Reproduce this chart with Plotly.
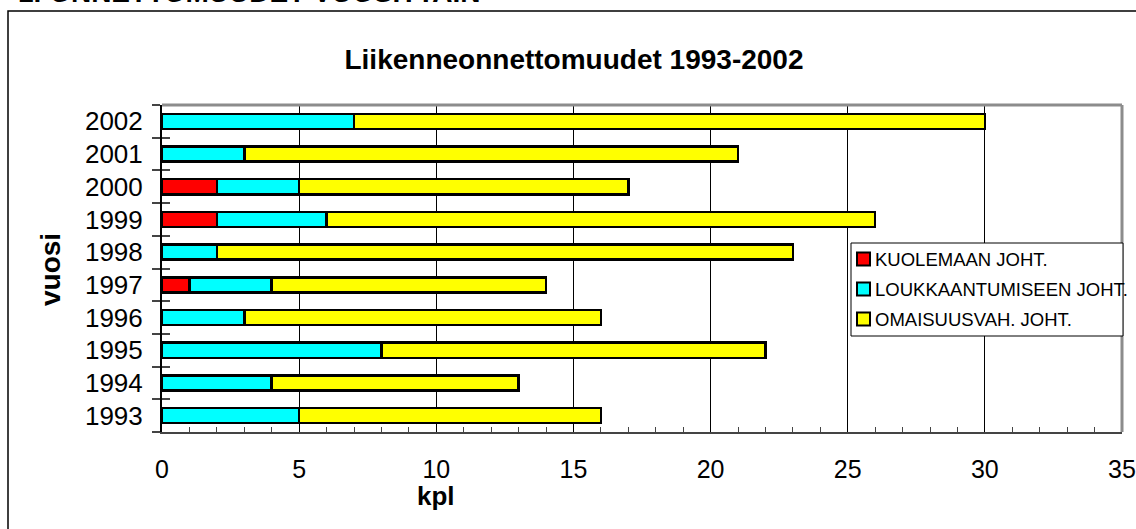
import plotly.graph_objects as go

years = ["1993", "1994", "1995", "1996", "1997", "1998", "1999", "2000", "2001", "2002"]
kuolemaan = [0, 0, 0, 0, 1, 0, 2, 2, 0, 0]
loukkaantumiseen = [5, 4, 8, 3, 3, 2, 4, 3, 3, 7]
omaisuusvah = [11, 9, 14, 13, 10, 21, 20, 12, 18, 23]

series = [
    ("KUOLEMAAN JOHT.", kuolemaan, "#FF0000"),
    ("LOUKKAANTUMISEEN JOHT.", loukkaantumiseen, "#00FFFF"),
    ("OMAISUUSVAH. JOHT.", omaisuusvah, "#FFFF00"),
]

W, H = 1136, 529
L, R, T, B = 162, 1122, 105, 432
pw, ph = R - L, B - T

def px_x(p):
    return (p - L) / pw

def px_y(p):
    return 1 - (p - T) / ph

font = "Liberation Sans, Arial, sans-serif"

fig = go.Figure()
for i, (name, vals, col) in enumerate(series):
    fig.add_trace(go.Bar(
        y=years, x=vals, name=name, orientation="h",
        marker=dict(color=col, line=dict(color="black", width=2.5)),
        showlegend=False,
    ))

# invisible helper trace so the inner half of the y tick crosses can be drawn
fig.add_trace(go.Scatter(x=[0] * len(years), y=years, yaxis="y2", mode="markers",
                         marker=dict(opacity=0, size=0), showlegend=False, hoverinfo="skip"))

shapes = [
    dict(type="line", xref="paper", yref="paper", x0=0, x1=1, y0=1, y1=1,
         line=dict(color="#8c8c8c", width=3)),
    dict(type="line", xref="paper", yref="paper", x0=1, x1=1, y0=0, y1=1,
         line=dict(color="#8c8c8c", width=3)),
    dict(type="rect", xref="paper", yref="paper",
         x0=px_x(8), x1=px_x(1160), y0=px_y(560), y1=px_y(11),
         line=dict(color="black", width=1.5), layer="below"),
    dict(type="rect", xref="paper", yref="paper",
         x0=px_x(851), x1=px_x(1123), y0=px_y(336), y1=px_y(243),
         fillcolor="white", line=dict(color="black", width=1), layer="above"),
]

annotations = [
    dict(text="<b>1. ONNETTOMUUDET VUOSITTAIN</b>", xref="paper", yref="paper",
         x=px_x(16), y=px_y(10), xanchor="left", yanchor="bottom", showarrow=False,
         font=dict(size=28, family=font)),
    dict(text="<b>kpl</b>", xref="paper", yref="paper",
         x=px_x(436), y=px_y(496), xanchor="center", yanchor="middle", showarrow=False,
         font=dict(size=26, family=font)),
    dict(text="<b>vuosi</b>", xref="paper", yref="paper",
         x=px_x(50), y=px_y(270), xanchor="center", yanchor="middle", showarrow=False,
         textangle=-90, font=dict(size=28, family=font)),
]

for i, (name, vals, col) in enumerate(series):
    yc = 259 + 30 * i
    shapes.append(dict(type="rect", xref="paper", yref="paper",
                       x0=px_x(857), x1=px_x(870), y0=px_y(yc + 6.5), y1=px_y(yc - 6.5),
                       fillcolor=col, line=dict(color="black", width=2), layer="above"))
    annotations.append(dict(text=name, xref="paper", yref="paper",
                            x=px_x(873), y=px_y(yc), xanchor="left", yanchor="middle",
                            showarrow=False, font=dict(size=18.5, family=font)))

fig.update_layout(
    width=W, height=H,
    margin=dict(l=L, r=W - R, t=T, b=H - B, autoexpand=False),
    barmode="stack", bargap=0.54,
    plot_bgcolor="white", paper_bgcolor="white",
    font=dict(family=font, color="black", size=25),
    showlegend=False,
    title=dict(text="<b>Liikenneonnettomuudet 1993-2002</b>", x=574 / W, xref="container",
               y=1 - 59 / H, yanchor="middle", yref="container", xanchor="center",
               font=dict(size=28, family=font)),
    xaxis=dict(
        range=[0, 35], dtick=5, tick0=0,
        showgrid=True, gridcolor="black", gridwidth=1,
        showline=True, linecolor="#444444", linewidth=2,
        ticks="", ticklabelstandoff=14,
        tickfont=dict(size=25),
        minor=dict(dtick=1, ticks="inside", ticklen=5, tickcolor="#444444", showgrid=False),
        zeroline=False, automargin=False,
    ),
    yaxis=dict(
        type="category", tickson="boundaries", range=[-0.5, len(years) - 0.5],
        ticks="outside", ticklen=8, tickcolor="#444444", tickwidth=1.5,
        showline=True, linecolor="black", linewidth=2,
        showgrid=False, tickfont=dict(size=26),
        ticklabelstandoff=12, automargin=False,
    ),
    yaxis2=dict(
        type="category", overlaying="y", matches="y", side="left",
        tickson="boundaries", ticks="inside", ticklen=8, tickcolor="#444444", tickwidth=1.5,
        showticklabels=False, showline=False, showgrid=False, automargin=False,
    ),
    shapes=shapes,
    annotations=annotations,
)

fig.write_html("out.html", config={"displayModeBar": False},
               post_script="document.body.style.margin='0';document.body.style.overflow='hidden';")
